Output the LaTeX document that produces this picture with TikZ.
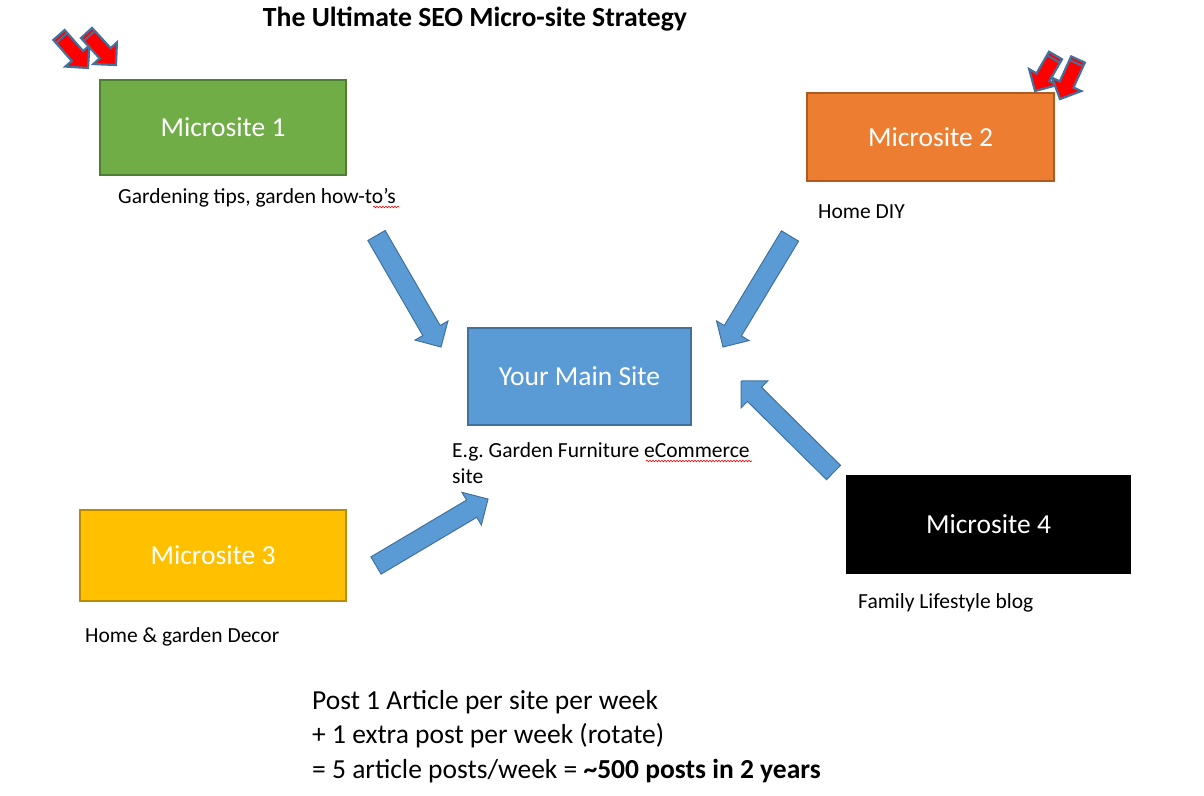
\documentclass[tikz,border=0pt]{standalone}
\usepackage{fontspec}
\setmainfont{Carlito}
\usepackage{tikz}
\usetikzlibrary{calc,decorations.pathmorphing}
\definecolor{sitegreen}{RGB}{112, 173, 71}
\definecolor{sitegreenedge}{RGB}{80, 126, 50}
\definecolor{siteorange}{RGB}{237, 125, 49}
\definecolor{siteorangeedge}{RGB}{174, 90, 33}
\definecolor{siteblue}{RGB}{91, 155, 213}
\definecolor{siteblueedge}{RGB}{65, 113, 156}
\definecolor{siteyellow}{RGB}{255, 192, 0}
\definecolor{siteyellowedge}{RGB}{188, 140, 0}
\definecolor{flagred}{RGB}{255, 0, 0}
\frenchspacing
% block arrow: style, tail, tip, half shaft, half head, head length
\newcommand{\blockarrow}[6]{%
  \path ($(#3)!#6!(#2)$) coordinate (hb);
  \draw[#1] ($(#2)!#4!90:(#3)$) -- ($(hb)!#4!90:(#3)$) -- ($(hb)!#5!90:(#3)$)
    -- (#3) -- ($(hb)!#5!-90:(#3)$) -- ($(hb)!#4!-90:(#3)$) -- ($(#2)!#4!-90:(#3)$) -- cycle;
}
% stripe near the tail of the red arrows
\newcommand{\tailstripe}[2]{%
  \path ($(#1)!4pt!(#2)$) coordinate (st);
  \draw[siteblueedge, line width=2pt] ($(st)!7.5pt!90:(#2)$) -- ($(st)!7.5pt!-90:(#2)$);
}

\begin{document}
\begin{tikzpicture}[x=1pt, y=-1pt,
  sitebox/.style={rectangle, line width=1.2pt, inner sep=0pt, text=white,
    font=\fontsize{27.5}{33}\selectfont},
  note/.style={anchor=base west, inner sep=0pt, align=left,
    font=\fontsize{21.5}{26}\selectfont},
  bluearrow/.style={fill=siteblue, draw=siteblueedge, line width=1pt},
  redarrow/.style={fill=flagred, draw=siteblueedge, line width=2.2pt},
  spell/.style={draw=red, line width=0.6pt, decorate,
    decoration={snake, segment length=3pt, amplitude=0.8pt}}]
\useasboundingbox (0,0) rectangle (1204,795);

% Title
\node[anchor=base, inner sep=0pt, font=\fontsize{27.7}{33}\selectfont\bfseries] (title) at (475,27)
  {The Ultimate SEO Micro-site Strategy};

% Sites
\node[sitebox, fill=sitegreen, draw=sitegreenedge, minimum width=246pt, minimum height=95pt]
  (ms1) at (223,127.5) {Microsite 1};
\node[sitebox, fill=siteorange, draw=siteorangeedge, minimum width=247pt, minimum height=88pt]
  (ms2) at (930.5,137) {Microsite 2};
\node[sitebox, fill=siteblue, draw=siteblueedge, minimum width=223pt, minimum height=97pt]
  (main) at (579.5,376.5) {Your Main Site};
\node[sitebox, fill=siteyellow, draw=siteyellowedge, minimum width=266pt, minimum height=91pt]
  (ms3) at (213,555.5) {Microsite 3};
\node[sitebox, fill=black, draw=black, minimum width=283pt, minimum height=97pt]
  (ms4) at (988.5,524.5) {Microsite 4};

% Notes under the boxes (base = last line)
\node[note] (ms1txt) at (118,203) {Gardening tips, garden how-to’s};
\node[note] (ms2txt) at (818,218) {Home DIY};
\node[note] (maintxt) at (452,483) {E.g. Garden Furniture eCommerce\\site};
\node[note] (ms3txt) at (85,642) {Home \& garden Decor};
\node[note] (ms4txt) at (858,608) {Family Lifestyle blog};
\draw[spell] (373,207) -- (399,207);
\draw[spell] (646,461) -- (752,461);

% Plan
\node[note, font=\fontsize{27.5}{34.5}\selectfont] (plan) at (312,778)
  {Post 1 Article per site per week\\+ 1 extra post per week (rotate)\\= 5 article posts/week = \textbf{\textasciitilde500 posts in 2 years}};

% Links into the main site
\coordinate (a1t) at (376.5,235.5);
\coordinate (a1h) at (441,347);
\coordinate (a2t) at (790,236);
\coordinate (a2h) at (723,347);
\coordinate (a3t) at (376,565.5);
\coordinate (a3h) at (488,499);
\coordinate (a4t) at (833.5,472.5);
\coordinate (a4h) at (741,381);
\blockarrow{bluearrow}{a1t}{a1h}{10pt}{19pt}{19pt}
\blockarrow{bluearrow}{a2t}{a2h}{10pt}{19pt}{19pt}
\blockarrow{bluearrow}{a3t}{a3h}{10pt}{19pt}{19pt}
\blockarrow{bluearrow}{a4t}{a4h}{10pt}{19pt}{19pt}

% Red flags
\coordinate (r1t) at (59,35);
\coordinate (r1h) at (88,68);
\coordinate (r2t) at (86.5,33);
\coordinate (r2h) at (116,65);
\coordinate (r3t) at (1055.5,55.5);
\coordinate (r3h) at (1035,91);
\coordinate (r4t) at (1078,59.5);
\coordinate (r4h) at (1060,99);
\blockarrow{redarrow}{r1t}{r1h}{7.5pt}{16pt}{16pt}
\tailstripe{r1t}{r1h}
\blockarrow{redarrow}{r2t}{r2h}{7.5pt}{16pt}{16pt}
\tailstripe{r2t}{r2h}
\blockarrow{redarrow}{r3t}{r3h}{7.5pt}{16pt}{16pt}
\tailstripe{r3t}{r3h}
\blockarrow{redarrow}{r4t}{r4h}{7.5pt}{16pt}{16pt}
\tailstripe{r4t}{r4h}
\end{tikzpicture}
\end{document}
